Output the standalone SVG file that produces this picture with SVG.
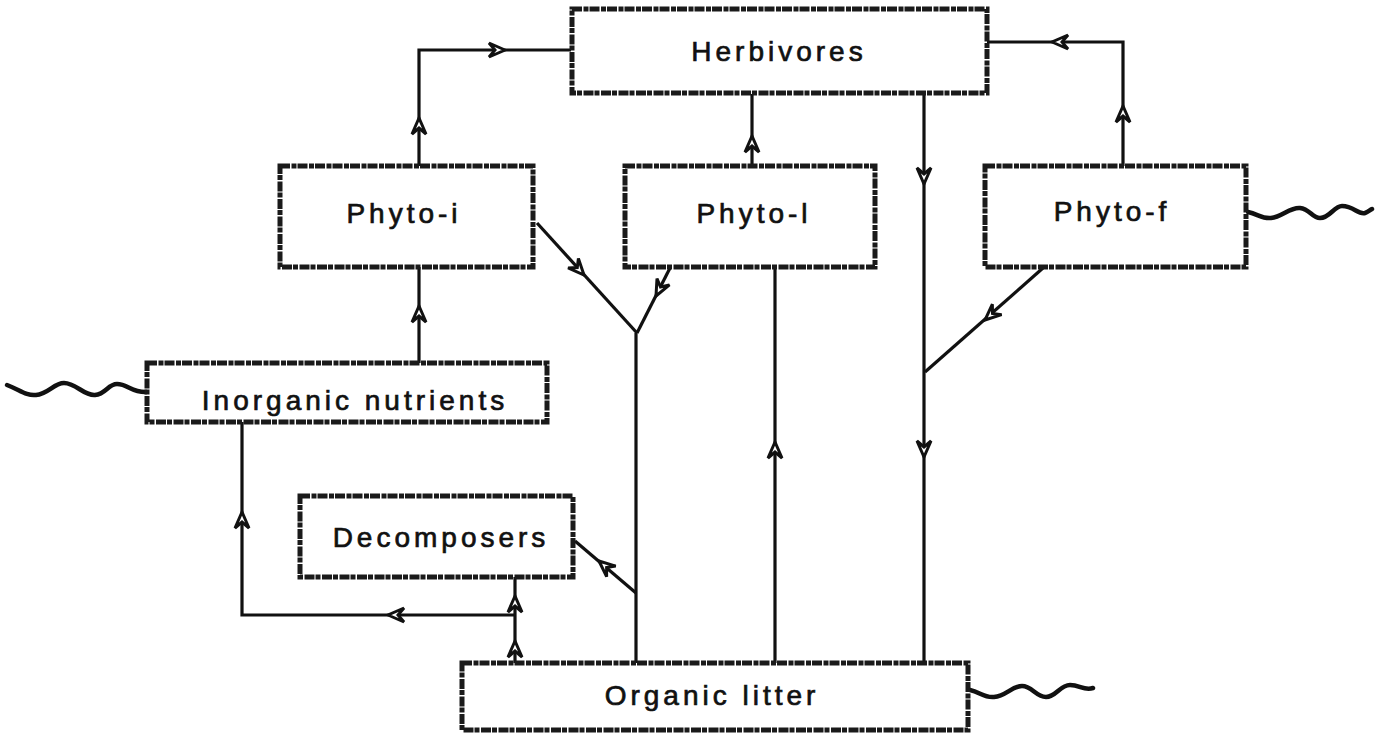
<svg xmlns="http://www.w3.org/2000/svg" xmlns:xlink="http://www.w3.org/1999/xlink" width="1377" height="737" viewBox="0 0 1377 737">
<style>
.box{fill:#fff;stroke:#1a1a1a;stroke-width:5;stroke-dasharray:10 1.5 5 1}
.lbl{font-family:"Liberation Sans",Arial,sans-serif;font-size:28px;letter-spacing:4px;fill:#111;stroke:#111;stroke-width:0.7;text-anchor:middle}
.ln{fill:none;stroke:#111;stroke-width:3.2;stroke-linejoin:miter}
.wave{fill:none;stroke:#111;stroke-width:4.5;stroke-linecap:round}
.ah{fill:#fff;stroke:#111;stroke-width:3;stroke-linejoin:miter}
</style>
<defs>
<path id="ah" class="ah" d="M0,0 L-16,-7 L-10,0 L-16,7 Z"/>
</defs>
<rect width="1377" height="737" fill="#fff"/>

<g id="connectors">
<path class="ln" d="M419,166 V50 H571"/>
<path class="ln" d="M1123,166 V42 H987"/>
<path class="ln" d="M752,166 V94"/>
<path class="ln" d="M924,94 V663"/>
<path class="ln" d="M1043,268 L925,372"/>
<path class="ln" d="M537,223 L637,333"/>
<path class="ln" d="M670,268 L637,333"/>
<path class="ln" d="M636,333 V663"/>
<path class="ln" d="M636,593 L575,541"/>
<path class="ln" d="M775,267 V663"/>
<path class="ln" d="M419,267 V363"/>
<path class="ln" d="M242,422 V615 H515"/>
<path class="ln" d="M515,663 V577"/>
<use xlink:href="#ah" transform="translate(419,118) rotate(-90)"/>
<use xlink:href="#ah" transform="translate(505,50)"/>
<use xlink:href="#ah" transform="translate(1123,106) rotate(-90)"/>
<use xlink:href="#ah" transform="translate(1052,42) rotate(180)"/>
<use xlink:href="#ah" transform="translate(752,136) rotate(-90)"/>
<use xlink:href="#ah" transform="translate(924,184) rotate(90)"/>
<use xlink:href="#ah" transform="translate(924,457) rotate(90)"/>
<use xlink:href="#ah" transform="translate(775,442) rotate(-90)"/>
<use xlink:href="#ah" transform="translate(985,320) rotate(138.6)"/>
<use xlink:href="#ah" transform="translate(584,275) rotate(47.7)"/>
<use xlink:href="#ah" transform="translate(656,296) rotate(116.9)"/>
<use xlink:href="#ah" transform="translate(599,561) rotate(-139.5)"/>
<use xlink:href="#ah" transform="translate(419,306) rotate(-90)"/>
<use xlink:href="#ah" transform="translate(242,512) rotate(-90)"/>
<use xlink:href="#ah" transform="translate(388,615) rotate(180)"/>
<use xlink:href="#ah" transform="translate(515,596) rotate(-90)"/>
<use xlink:href="#ah" transform="translate(515,641) rotate(-90)"/>
<path class="wave" d="M7,385 C20,390 26,396 36,395 C48,394 54,383 64,383 C76,383 84,396 95,395 C106,394 108,384 117,384 C128,384 132,393 147,392"/>
<path class="wave" d="M1248,212 C1258,214 1262,219 1271,218 C1282,217 1290,207 1300,208 C1310,209 1312,218 1320,218 C1330,218 1334,206 1342,206 C1354,206 1358,215 1365,213 C1368,212 1370,210 1372,209"/>
<path class="wave" d="M970,690 C980,692 984,698 994,697 C1006,696 1012,686 1022,686 C1032,686 1036,697 1046,697 C1056,697 1060,685 1070,685 C1080,685 1084,691 1093,688"/>
</g>

<g id="herbivores">
<rect class="box" x="572" y="9" width="415" height="84"/>
<text class="lbl" x="779" y="61">Herbivores</text>
</g>
<g id="phyto-i">
<rect class="box" x="280" y="166" width="253" height="101"/>
<text class="lbl" x="404" y="223">Phyto-i</text>
</g>
<g id="phyto-l">
<rect class="box" x="625" y="166" width="250" height="101"/>
<text class="lbl" x="754" y="223">Phyto-l</text>
</g>
<g id="phyto-f">
<rect class="box" x="985" y="166" width="261" height="101"/>
<text class="lbl" x="1112" y="221">Phyto-f</text>
</g>
<g id="inorganic-nutrients">
<rect class="box" x="147" y="363" width="400" height="59"/>
<text class="lbl" x="355" y="410">Inorganic nutrients</text>
</g>
<g id="decomposers">
<rect class="box" x="300" y="496" width="273" height="81"/>
<text class="lbl" x="441" y="547">Decomposers</text>
</g>
<g id="organic-litter">
<rect class="box" x="462" y="663" width="506" height="67"/>
<text class="lbl" x="712" y="705">Organic litter</text>
</g>
</svg>
